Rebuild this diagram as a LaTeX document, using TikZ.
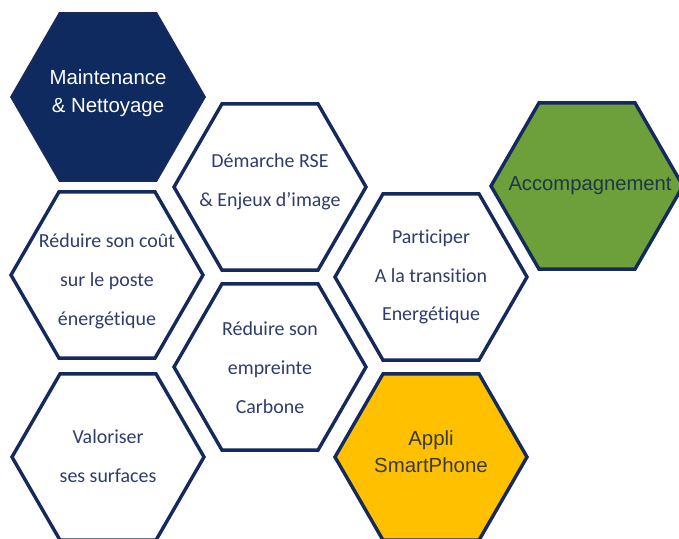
\documentclass[tikz,border=0pt]{standalone}
\usepackage{fontspec}
\setmainfont[Ligatures=NoCommon]{Carlito}
\newfontfamily\arialf{Liberation Sans}
\usetikzlibrary{shapes.geometric}
\definecolor{navy}{HTML}{14295C}
\definecolor{navyfill}{HTML}{0F2A5E}
\definecolor{txtblue}{HTML}{2F3C6C}
\definecolor{leaf}{HTML}{6D9F3A}
\definecolor{gold}{HTML}{FFC000}
\definecolor{acctxt}{HTML}{1F3848}
\definecolor{apptxt}{HTML}{3A3A3A}
\tikzset{
  hexa/.style={regular polygon, regular polygon sides=6, minimum size=192bp,
    inner sep=0pt, outer sep=0pt, draw=navy, line width=3.4bp, fill=white},
  whitetxt/.style={align=center, text=txtblue, font=\fontsize{20}{39}\selectfont},
  darktxt/.style={align=center, text=white, font=\arialf\fontsize{20.5}{28}\selectfont},
  acctext/.style={align=center, text=acctxt, font=\arialf\fontsize{20.3}{26}\selectfont},
  apptext/.style={align=center, text=apptxt, font=\arialf\fontsize{20.5}{27}\selectfont}
}
\begin{document}
\begin{tikzpicture}[x=1bp,y=-1bp]
\useasboundingbox (0,0) rectangle (679,539);
\fill[white] (0,0) rectangle (679,539);
% hexagons
\node[hexa, fill=navyfill] (maint) at (108,97) {};
\node[hexa] (rse) at (270,187) {};
\node[hexa] (cout) at (107,275) {};
\node[hexa] (valo) at (108,457) {};
\node[hexa] (carb) at (270,367) {};
\node[hexa] (part) at (431,277) {};
\node[hexa, fill=leaf] (acc) at (587,186) {};
\node[hexa, fill=gold] (app) at (431,457) {};
% texts (yshift is in page direction: positive = up)
\node[darktxt] (tmaint) at ([yshift=4bp]maint.center) {Maintenance\\\& Nettoyage};
\node[whitetxt] (trse) at ([yshift=5bp]rse.center) {Démarche RSE\\\& Enjeux d’image};
\node[whitetxt] (tcout) at ([yshift=-6bp]cout.center) {Réduire son coût\\sur le poste\\énergétique};
\node[whitetxt] (tvalo) at ([yshift=1bp]valo.center) {Valoriser\\ses surfaces};
\node[whitetxt] (tcarb) at ([yshift=-1bp]carb.center) {Réduire son\\empreinte\\Carbone};
\node[whitetxt] (tpart) at ([yshift=0bp]part.center) {Participer\\A la transition\\Energétique};
\node[acctext] (tacc) at ([xshift=3bp,yshift=0bp]acc.center) {Accompagnement};
\node[apptext] (tapp) at ([yshift=5bp]app.center) {Appli\\SmartPhone};
\end{tikzpicture}
\end{document}
